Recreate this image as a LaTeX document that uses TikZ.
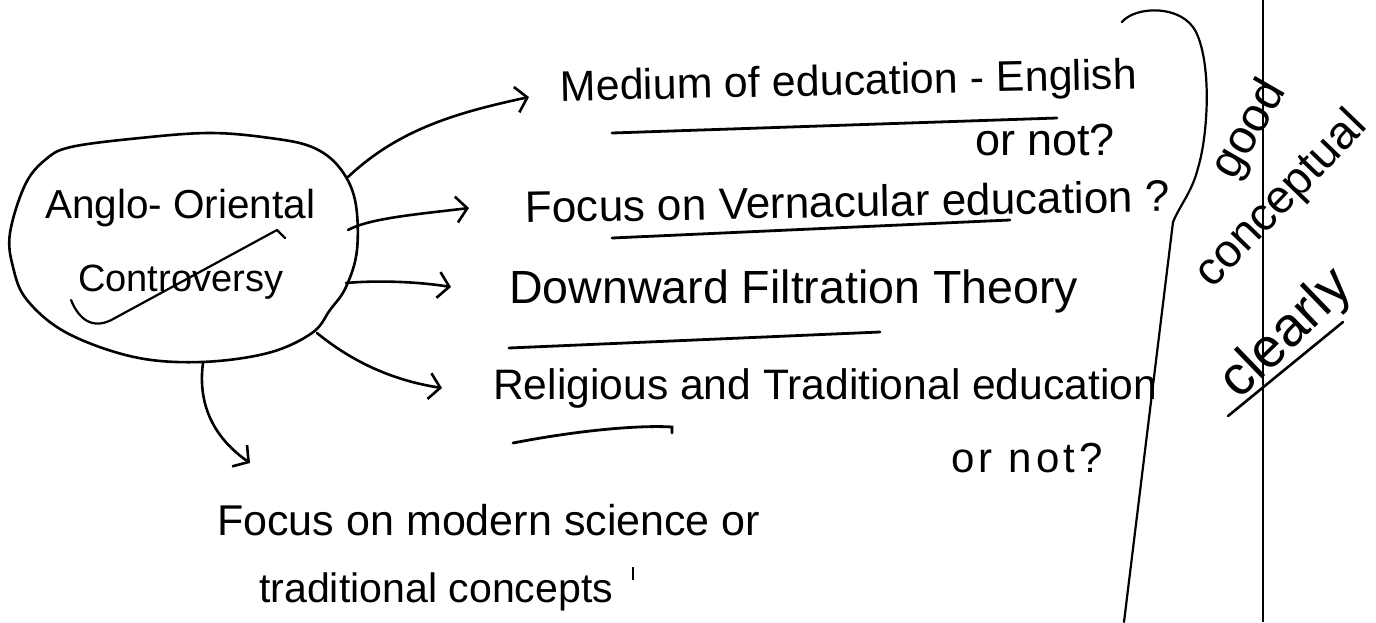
\documentclass[tikz,border=0pt]{standalone}
\usepackage{fontspec}
\setmainfont{Liberation Sans}
\usetikzlibrary{arrows.meta}
\newcommand{\fw}[2]{\resizebox{#1pt}{!}{#2}}
\begin{document}
\begin{tikzpicture}[x=1pt,y=-1pt,
  pen/.style={line width=2.6pt,line cap=round,line join=round},
  arr/.style={pen,-{Straight Barb[length=11pt,width=26pt,line width=2.6pt]}},
  hw/.style={font=\fontsize{42}{50}\selectfont,inner sep=0pt,text=black},
  uline/.style={line width=2.8pt,line cap=round}]
\useasboundingbox (0,0) rectangle (1376,622);
\fill[white] (0,0) rectangle (1376,622);

% central blob
\draw[pen] plot[smooth cycle,tension=0.6] coordinates {(10,233) (25,185) (45,160) (71,147) (140,138) (210,133) (270,138) (312,147) (339,167) (355,200) (357,250) (346,287) (330,310) (312,333) (268,353) (201,362) (134,357) (67,333) (27,300) (13,267)};
\node[hw,anchor=west] (ao1) at (45,208) {\fw{270}{Anglo- Oriental}};
\node[hw,anchor=west] (ao2) at (78,282) {\fw{205}{Controversy}};
\draw[pen,line width=2.2pt] (71,300) .. controls (80,322) and (95,330) .. (115,318) -- (277,230) -- (285,238);

% arrow start and end points
\coordinate (b1) at (348,177); \coordinate (e1) at (529,97);
\coordinate (b2) at (348,230); \coordinate (e2) at (469,208);
\coordinate (b3) at (346,283); \coordinate (e3) at (451,287);
\coordinate (b4) at (317,333); \coordinate (e4) at (442,388);
\coordinate (b5) at (203,363); \coordinate (e5) at (250,463);

\draw[arr] (b1) .. controls (400,128) and (460,112) .. (e1);
\draw[arr] (b2) .. controls (370,218) and (420,214) .. (e2);
\draw[arr] (b3) .. controls (380,280) and (420,282) .. (e3);
\draw[arr] (b4) .. controls (350,360) and (390,380) .. (e4);
\draw[arr] (b5) .. controls (198,400) and (210,435) .. (e5);

% branch texts
\node[hw,anchor=west,rotate=1.2] (t1) at (560,90) {\fw{577}{Medium of education - English}};
\node[hw] (t1b) at (1045,140) {\fw{140}{or not?}};
\node[hw,anchor=west,rotate=1] (t2) at (525,207) {\fw{645}{Focus on Vernacular education ?}};
\node[hw,anchor=west] (t3) at (509,291) {\fw{569}{Downward Filtration Theory}};
\node[hw,anchor=west] (t4) at (493,388) {\fw{664}{Religious and Traditional education}};
\node[hw] (t4b) at (1027,458) {\addfontfeatures{LetterSpace=10}or not?};
\node[hw,anchor=west] (t5) at (217,520) {\fw{543}{Focus on modern science or}};
\node[hw,anchor=west] (t6) at (259,592) {\fw{354}{traditional concepts}};
\draw[line width=1.4pt] (633,567) -- (633,580);

% underlines
\draw[uline] (612,133) -- (1057,118);
\draw[uline] (612,238) -- (1010,220);
\draw[uline] (509,348) -- (880,332);
\draw[uline] (513,443) .. controls (580,430) and (640,425) .. (672,427) -- (672,433);

% brace and margin
\draw[pen,line width=2.2pt] (1122,22) .. controls (1135,6) and (1182,4) .. (1196,32)
  .. controls (1212,65) and (1208,135) .. (1198,168)
  .. controls (1192,192) and (1180,205) .. (1173,222) -- (1124,622);
\draw[line width=1.6pt] (1263,0) -- (1263,622);

% remark
\node[hw,rotate=60] (r1) at (1250,130) {\fw{105}{good}};
\node[hw,rotate=46] (r2) at (1282,200) {\fw{225}{conceptual}};
\node[hw,rotate=44] (r3) at (1287,335) {\fw{160}{clearly}};
\draw[pen] (1228,416) -- (1343,322);
\end{tikzpicture}
\end{document}
